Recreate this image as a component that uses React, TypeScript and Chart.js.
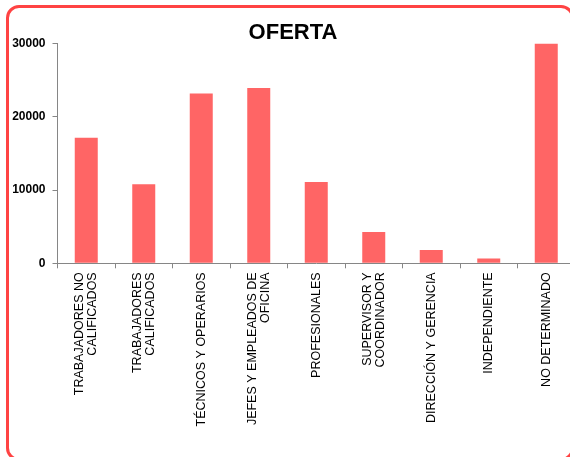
import React, { useEffect, useRef } from "react";
import { Chart, registerables } from "chart.js";

Chart.register(...registerables);

const categories: (string | string[])[] = [
  ["TRABAJADORES NO", "CALIFICADOS"],
  ["TRABAJADORES", "CALIFICADOS"],
  "TÉCNICOS Y OPERARIOS",
  ["JEFES Y EMPLEADOS DE", "OFICINA"],
  "PROFESIONALES",
  ["SUPERVISOR Y", "COORDINADOR"],
  "DIRECCIÓN Y GERENCIA",
  "INDEPENDIENTE",
  "NO DETERMINADO",
];

const ofertaValues: number[] = [17130, 10770, 23180, 23900, 11090, 4270, 1810, 650, 30000];

const yTicks: number[] = [0, 10000, 20000, 30000];

const chartTitle = "OFERTA";

// Centre multi-line rotated tick labels on their tick (Chart.js puts the first line on the tick).
const centerMultilineLabels = {
  id: "centerMultilineLabels",
  beforeDraw(chart: any) {
    const scale = chart.scales.x;
    if (!scale) return;
    const items = scale.getLabelItems();
    items.forEach((item: any) => {
      if (item._centered) return;
      item._centered = true;
      if (Array.isArray(item.label) && item.label.length > 1) {
        const lh = item.font.lineHeight;
        item.textOffset -= ((item.label.length - 1) * lh) / 2;
      }
    });
  },
};

export default function App() {
  const canvasRef = useRef<HTMLCanvasElement | null>(null);

  useEffect(() => {
    document.body.style.margin = "0";
    const canvas = canvasRef.current;
    if (!canvas) return;
    const axisGray = "#868686";
    const chart = new Chart(canvas, {
      type: "bar",
      data: {
        labels: categories,
        datasets: [
          {
            label: chartTitle,
            data: ofertaValues,
            backgroundColor: "#FF6565",
            borderWidth: 0,
            barPercentage: 0.4,
            categoryPercentage: 1,
          },
        ],
      },
      plugins: [centerMultilineLabels],
      options: {
        responsive: false,
        animation: false,
        devicePixelRatio: 1,
        layout: { padding: { left: 11, right: 13, top: 0, bottom: 0 } },
        plugins: {
          legend: { display: false },
          tooltip: { enabled: false },
          title: {
            display: true,
            text: chartTitle,
            color: "#000",
            font: { family: "Arial, 'Liberation Sans', sans-serif", size: 22, weight: "bold", lineHeight: 0.95 },
            padding: { top: 22.5, bottom: 0 },
          },
        },
        scales: {
          x: {
            grid: {
              display: true,
              drawOnChartArea: false,
              drawTicks: true,
              tickLength: 5,
              color: axisGray,
              offset: true,
            },
            border: { display: true, color: axisGray, width: 1 },
            ticks: {
              autoSkip: false,
              minRotation: 90,
              maxRotation: 90,
              padding: 4,
              color: "#000",
              font: { family: "Arial, 'Liberation Sans', sans-serif", size: 12.5, lineHeight: 1.05 },
            },
            afterFit: (scale: any) => {
              scale.height = 193.7;
            },
          },
          y: {
            min: 0,
            max: 30000,
            afterBuildTicks: (scale: any) => {
              scale.ticks = yTicks.map((v) => ({ value: v }));
            },
            grid: {
              display: true,
              drawOnChartArea: false,
              drawTicks: true,
              tickLength: 5,
              color: axisGray,
            },
            border: { display: true, color: axisGray, width: 1 },
            ticks: {
              padding: 7,
              color: "#000",
              font: { family: "Arial, 'Liberation Sans', sans-serif", size: 12, weight: "bold" },
              callback: (v: any) => String(v),
            },
            afterFit: (scale: any) => {
              scale.width = 46.5;
            },
          },
        },
      },
    });
    return () => chart.destroy();
  }, []);

  return (
    <div
      style={{
        position: "fixed",
        left: 0,
        top: 0,
        width: 570,
        height: 457,
        overflow: "hidden",
        background: "#fff",
      }}
    >
      <div
        style={{
          position: "absolute",
          left: 6,
          top: 5,
          width: 568,
          height: 456,
          border: "3px solid #FF4343",
          borderRadius: 13,
          boxSizing: "border-box",
        }}
      />
      <canvas
        ref={canvasRef}
        width={588}
        height={457}
        style={{ position: "absolute", left: 0, top: 0, width: 588, height: 457 }}
      />
    </div>
  );
}
